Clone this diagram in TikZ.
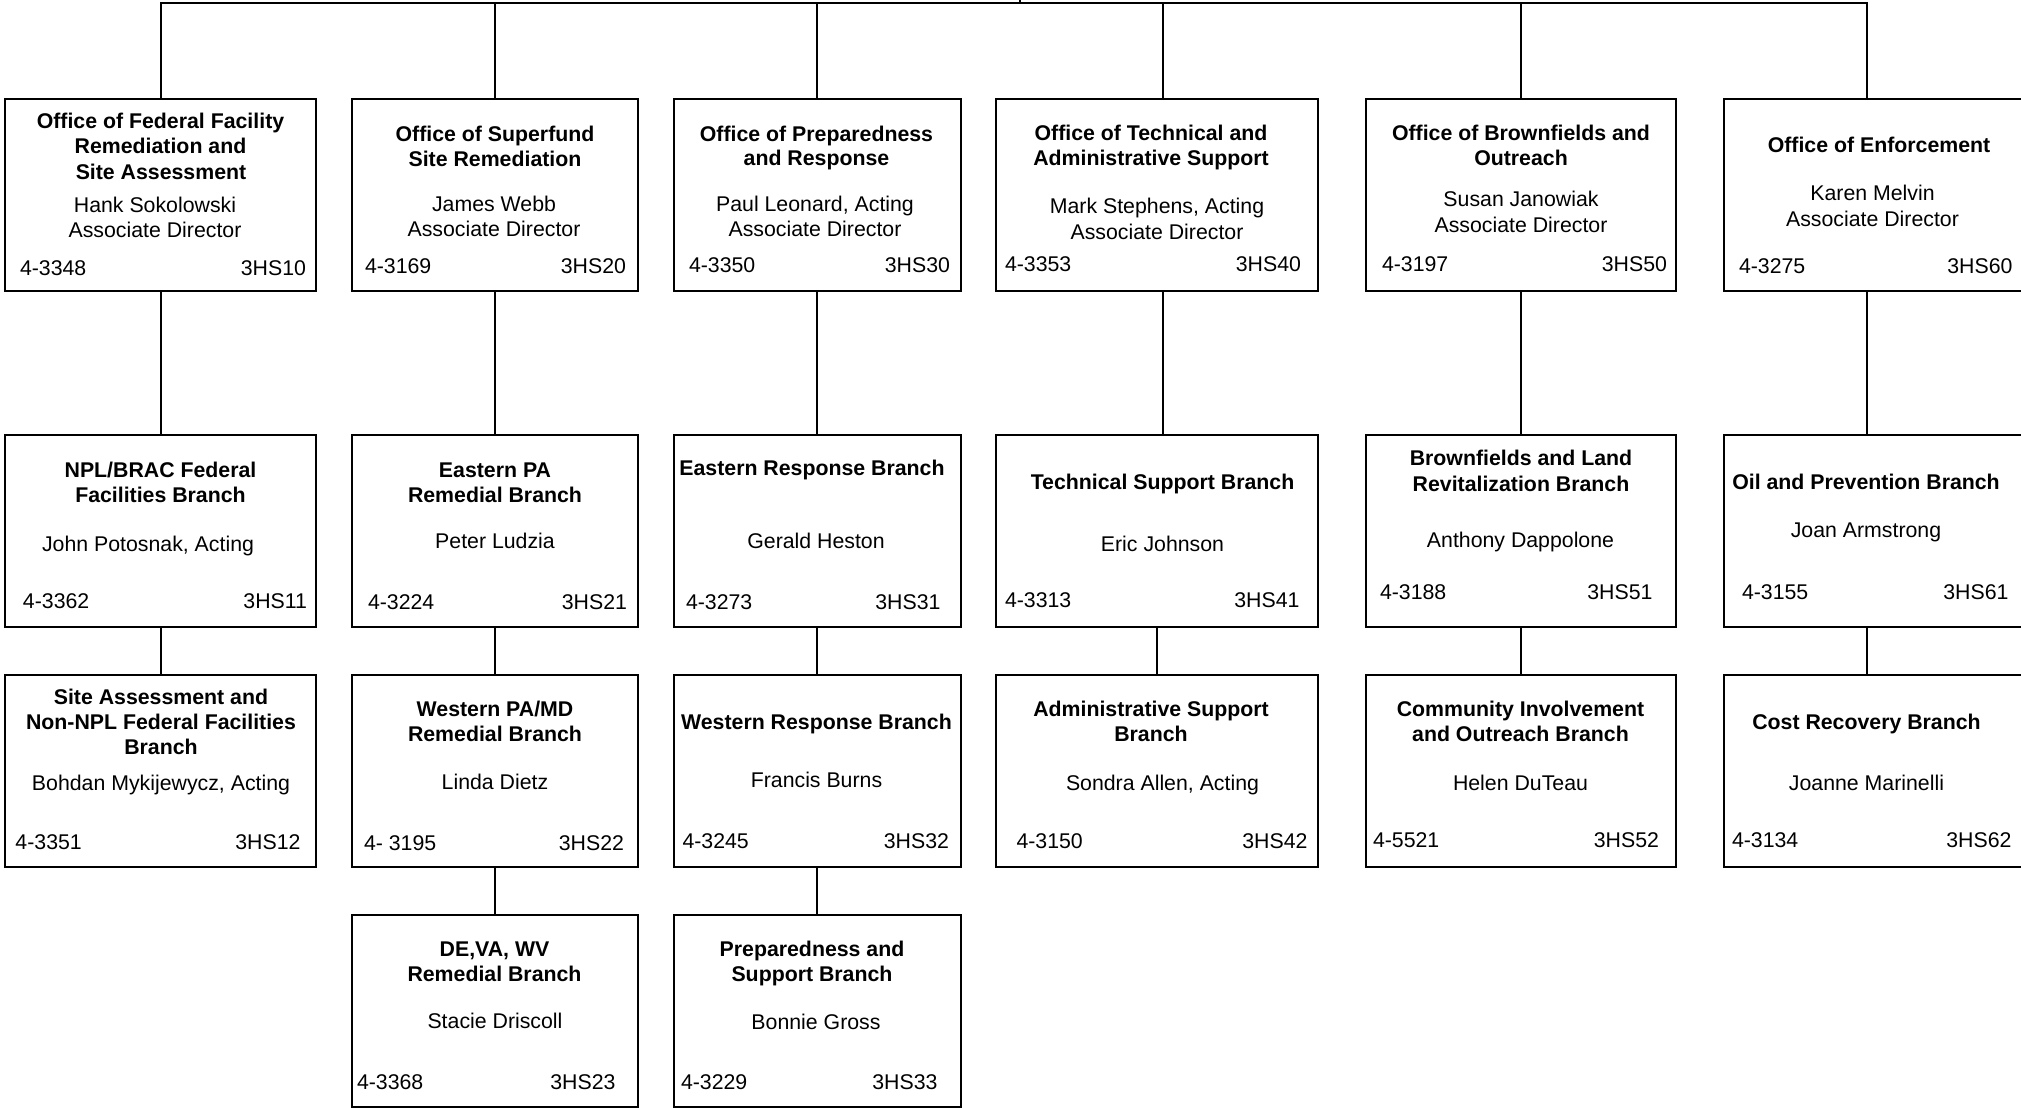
\documentclass[tikz,border=0pt]{standalone}
\usepackage{fontspec}
\setmainfont{Liberation Sans}
\begin{document}
\begin{tikzpicture}[x=1pt,y=-1pt,
  every node/.style={inner sep=0pt,outer sep=0pt},
  box/.style={draw=black,line width=2pt,rectangle,anchor=north west,minimum height=192pt},
  conn/.style={draw=black,line width=2pt},
  ttl/.style={anchor=base,font=\fontsize{21.3}{25.7}\selectfont\bfseries},
  nm/.style={anchor=base,font=\fontsize{21.3}{25.7}\selectfont},
  ph/.style={anchor=base west,font=\fontsize{21.3}{25.7}\selectfont},
  rm/.style={anchor=base east,font=\fontsize{21.3}{25.7}\selectfont}]
\clip (0,0) rectangle (2021,1108);
\fill[white] (0,0) rectangle (2021,1108);

% boxes
\node[box,minimum width=311pt] (b11) at (5,99) {};
\node[box,minimum width=286pt] (b12) at (352,99) {};
\node[box,minimum width=287pt] (b13) at (674,99) {};
\node[box,minimum width=322pt] (b14) at (996,99) {};
\node[box,minimum width=310pt] (b15) at (1366,99) {};
\node[box,minimum width=300pt] (b16) at (1724,99) {};

\node[box,minimum width=311pt] (b21) at (5,435) {};
\node[box,minimum width=286pt] (b22) at (352,435) {};
\node[box,minimum width=287pt] (b23) at (674,435) {};
\node[box,minimum width=322pt] (b24) at (996,435) {};
\node[box,minimum width=310pt] (b25) at (1366,435) {};
\node[box,minimum width=300pt] (b26) at (1724,435) {};

\node[box,minimum width=311pt] (b31) at (5,675) {};
\node[box,minimum width=286pt] (b32) at (352,675) {};
\node[box,minimum width=287pt] (b33) at (674,675) {};
\node[box,minimum width=322pt] (b34) at (996,675) {};
\node[box,minimum width=310pt] (b35) at (1366,675) {};
\node[box,minimum width=300pt] (b36) at (1724,675) {};

\node[box,minimum width=286pt] (b42) at (352,915) {};
\node[box,minimum width=287pt] (b43) at (674,915) {};

% connector coordinates
\coordinate (root) at (1020,-5);
\coordinate (j1) at (161,3);
\coordinate (j2) at (495,3);
\coordinate (j3) at (817,3);
\coordinate (j4) at (1162.5,3);
\coordinate (j5) at (1520.5,3);
\coordinate (j6) at (1866.5,3);
\coordinate (k4) at (1157,3);

\draw[conn,line cap=rect] (j1) -- (j6);
\draw[conn] (root) -- (root |- j1);
\foreach \j/\a/\b in {j1/b11/b21,j2/b12/b22,j3/b13/b23,j4/b14/b24,j5/b15/b25,j6/b16/b26}{
  \draw[conn] (\j) -- (\j |- \a.north);
  \draw[conn] (\a.south -| \j) -- (\j |- \b.north);
}
\draw[conn] (b21.south -| j1) -- (j1 |- b31.north);
\draw[conn] (b22.south -| j2) -- (j2 |- b32.north);
\draw[conn] (b23.south -| j3) -- (j3 |- b33.north);
\draw[conn] (b24.south -| k4) -- (k4 |- b34.north);
\draw[conn] (b25.south -| j5) -- (j5 |- b35.north);
\draw[conn] (b26.south -| j6) -- (j6 |- b36.north);
\draw[conn] (b32.south -| j2) -- (j2 |- b42.north);
\draw[conn] (b33.south -| j3) -- (j3 |- b43.north);

% row 1
\node[ttl] (t11a) at (160.5,128) {Office of Federal Facility};
\node[ttl] (t11b) at (160.5,153.5) {Remediation and};
\node[ttl] (t11c) at (161,179) {Site Assessment};
\node[nm] (n11a) at (155,212.5) {Hank Sokolowski};
\node[nm] (n11b) at (155,237.5) {Associate Director};
\node[ph] (p11) at (20,275) {4-3348};
\node[rm] (r11) at (306,275) {3HS10};

\node[ttl] (t12a) at (495,141) {Office of Superfund};
\node[ttl] (t12b) at (495,166) {Site Remediation};
\node[nm] (n12a) at (494,211) {James Webb};
\node[nm] (n12b) at (494,236.5) {Associate Director};
\node[ph] (p12) at (365,273.5) {4-3169};
\node[rm] (r12) at (626,273.5) {3HS20};

\node[ttl] (t13a) at (816.5,141) {Office of Preparedness};
\node[ttl] (t13b) at (816.5,165.5) {and Response};
\node[nm] (n13a) at (815,211) {Paul Leonard, Acting};
\node[nm] (n13b) at (815,236.5) {Associate Director};
\node[ph] (p13) at (689,272.5) {4-3350};
\node[rm] (r13) at (950,272.5) {3HS30};

\node[ttl] (t14a) at (1151,140) {Office of Technical and};
\node[ttl] (t14b) at (1151,165.5) {Administrative Support};
\node[nm] (n14a) at (1157,213) {Mark Stephens, Acting};
\node[nm] (n14b) at (1157,239) {Associate Director};
\node[ph] (p14) at (1005,271.5) {4-3353};
\node[rm] (r14) at (1301,271.5) {3HS40};

\node[ttl] (t15a) at (1521,140) {Office of Brownfields and};
\node[ttl] (t15b) at (1521,165.5) {Outreach};
\node[nm] (n15a) at (1521,206.5) {Susan Janowiak};
\node[nm] (n15b) at (1521,232) {Associate Director};
\node[ph] (p15) at (1382,271.5) {4-3197};
\node[rm] (r15) at (1667,271.5) {3HS50};

\node[ttl] (t16a) at (1879,152.5) {Office of Enforcement};
\node[nm] (n16a) at (1872.5,200.5) {Karen Melvin};
\node[nm] (n16b) at (1872.5,226.5) {Associate Director};
\node[ph] (p16) at (1739,273.5) {4-3275};
\node[rm] (r16) at (2012.5,273.5) {3HS60};

% row 2
\node[ttl] (t21a) at (160.5,477.5) {NPL/BRAC Federal};
\node[ttl] (t21b) at (160.5,502.5) {Facilities Branch};
\node[nm] (n21a) at (148,551) {John Potosnak, Acting};
\node[ph] (p21) at (23,608.5) {4-3362};
\node[rm] (r21) at (307,608.5) {3HS11};

\node[ttl] (t22a) at (495,477.5) {Eastern PA};
\node[ttl] (t22b) at (495,502.5) {Remedial Branch};
\node[nm] (n22a) at (495,548.5) {Peter Ludzia};
\node[ph] (p22) at (368,609) {4-3224};
\node[rm] (r22) at (627,609) {3HS21};

\node[ttl] (t23a) at (812,475.5) {Eastern Response Branch};
\node[nm] (n23a) at (816,548.5) {Gerald Heston};
\node[ph] (p23) at (686,609) {4-3273};
\node[rm] (r23) at (940.5,609) {3HS31};

\node[ttl] (t24a) at (1162.5,489) {Technical Support Branch};
\node[nm] (n24a) at (1162.5,551) {Eric Johnson};
\node[ph] (p24) at (1005,607.5) {4-3313};
\node[rm] (r24) at (1299.5,607.5) {3HS41};

\node[ttl] (t25a) at (1521,465.5) {Brownfields and Land};
\node[ttl] (t25b) at (1521,491) {Revitalization Branch};
\node[nm] (n25a) at (1520.5,547.5) {Anthony Dappolone};
\node[ph] (p25) at (1380,599) {4-3188};
\node[rm] (r25) at (1652.5,599) {3HS51};

\node[ttl] (t26a) at (1866,489) {Oil and Prevention Branch};
\node[nm] (n26a) at (1866,537.5) {Joan Armstrong};
\node[ph] (p26) at (1742,599) {4-3155};
\node[rm] (r26) at (2008.5,599) {3HS61};

% row 3
\node[ttl] (t31a) at (161,704) {Site Assessment and};
\node[ttl] (t31b) at (161,729.5) {Non-NPL Federal Facilities};
\node[ttl] (t31c) at (161,754.5) {Branch};
\node[nm] (n31a) at (161,790.5) {Bohdan Mykijewycz, Acting};
\node[ph] (p31) at (15.5,849) {4-3351};
\node[rm] (r31) at (300.5,849) {3HS12};

\node[ttl] (t32a) at (495,716.5) {Western PA/MD};
\node[ttl] (t32b) at (495,741.5) {Remedial Branch};
\node[nm] (n32a) at (495,789) {Linda Dietz};
\node[ph] (p32) at (364,850) {4- 3195};
\node[rm] (r32) at (624,850) {3HS22};

\node[ttl] (t33a) at (816.5,729) {Western Response Branch};
\node[nm] (n33a) at (816.5,787.5) {Francis Burns};
\node[ph] (p33) at (682.5,848.5) {4-3245};
\node[rm] (r33) at (949,848.5) {3HS32};

\node[ttl] (t34a) at (1151,716.5) {Administrative Support};
\node[ttl] (t34b) at (1151,741.5) {Branch};
\node[nm] (n34a) at (1162.5,790.5) {Sondra Allen, Acting};
\node[ph] (p34) at (1016.5,848.5) {4-3150};
\node[rm] (r34) at (1307.5,848.5) {3HS42};

\node[ttl] (t35a) at (1520.5,716.5) {Community Involvement};
\node[ttl] (t35b) at (1520.5,741.5) {and Outreach Branch};
\node[nm] (n35a) at (1520.5,790.5) {Helen DuTeau};
\node[ph] (p35) at (1373,847.5) {4-5521};
\node[rm] (r35) at (1659,847.5) {3HS52};

\node[ttl] (t36a) at (1866.5,729) {Cost Recovery Branch};
\node[nm] (n36a) at (1866.5,790.5) {Joanne Marinelli};
\node[ph] (p36) at (1732,847.5) {4-3134};
\node[rm] (r36) at (2011.5,847.5) {3HS62};

% row 4
\node[ttl] (t42a) at (494.5,956.5) {DE,VA, WV};
\node[ttl] (t42b) at (494.5,981.5) {Remedial Branch};
\node[nm] (n42a) at (495,1028.5) {Stacie Driscoll};
\node[ph] (p42) at (357,1089.5) {4-3368};
\node[rm] (r42) at (615.5,1089.5) {3HS23};

\node[ttl] (t43a) at (812,956.5) {Preparedness and};
\node[ttl] (t43b) at (812,981.5) {Support Branch};
\node[nm] (n43a) at (816,1029) {Bonnie Gross};
\node[ph] (p43) at (681,1089.5) {4-3229};
\node[rm] (r43) at (937.5,1089.5) {3HS33};
\end{tikzpicture}
\end{document}
